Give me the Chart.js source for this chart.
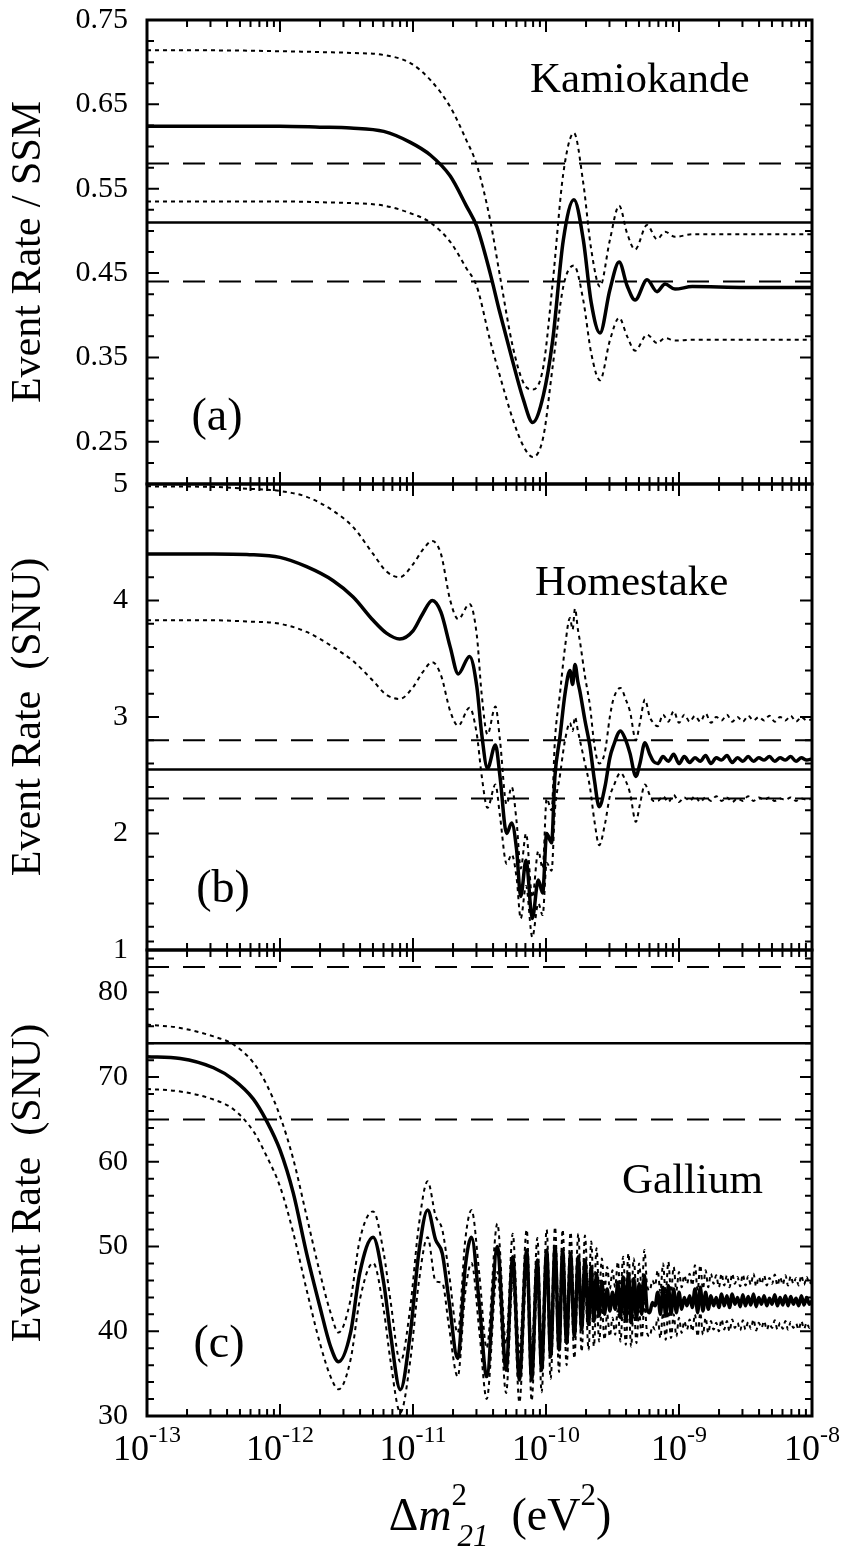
<!DOCTYPE html>
<html>
<head>
<meta charset="utf-8">
<script src="https://cdn.jsdelivr.net/npm/chart.js@4.4.0/dist/chart.umd.min.js"></script>
<style>
  body { margin: 0; background: #fff; }
  #wrap { position: relative; width: 842px; height: 1552px; }
  canvas { position: absolute; left: 0; }
</style>
</head>
<body>
<div id="wrap">
  <canvas id="kam" width="842" height="500" style="top:0px"></canvas>
  <canvas id="home" width="842" height="496" style="top:470px"></canvas>
  <canvas id="gal" width="842" height="616" style="top:936px"></canvas>
</div>
<script>
// ---- panel (a) Kamiokande : log10(dm2) and rate / SSM
const kamLog = [-13, -12.5, -12, -11.7, -11.47, -11.22, -11.02, -10.87, -10.72, -10.6, -10.52, -10.42,
  -10.35, -10.25, -10.17, -10.1, -10.02, -9.95, -9.87, -9.79, -9.72, -9.66, -9.594, -9.52, -9.45,
  -9.39, -9.33, -9.24, -9.165, -9.105, -9.03, -8.9, -8.5, -8];
const kamMid = [0.624, 0.624, 0.624, 0.623, 0.622, 0.618, 0.605, 0.590, 0.565, 0.530, 0.505, 0.450,
  0.405, 0.345, 0.300, 0.273, 0.305, 0.370, 0.489, 0.537, 0.490, 0.415, 0.379, 0.430, 0.463,
  0.435, 0.418, 0.442, 0.428, 0.437, 0.431, 0.434, 0.433, 0.433];
const kamHi = [0.714, 0.714, 0.713, 0.712, 0.711, 0.7085, 0.699, 0.679, 0.647, 0.608, 0.578, 0.513,
  0.450, 0.363, 0.320, 0.312, 0.339, 0.438, 0.568, 0.616, 0.557, 0.478, 0.434, 0.489, 0.530,
  0.497, 0.478, 0.507, 0.490, 0.499, 0.493, 0.496, 0.496, 0.496];
const kamLo = [0.535, 0.535, 0.535, 0.534, 0.533, 0.530, 0.521, 0.510, 0.487, 0.456, 0.434, 0.370,
  0.330, 0.277, 0.245, 0.232, 0.256, 0.339, 0.434, 0.459, 0.418, 0.355, 0.323, 0.370, 0.397,
  0.375, 0.358, 0.377, 0.367, 0.373, 0.370, 0.371, 0.371, 0.371];
const kamData = [0.44, 0.51, 0.58];   // measured rate: low, central, high
const kamTicks = [0.25, 0.35, 0.45, 0.55, 0.65, 0.75];

// ---- panel (b) Homestake (SNU)
const homeLog = [-13, -12.5, -12.25, -12.0, -11.8, -11.6, -11.45, -11.3, -11.2, -11.1, -11.0, -10.93,
  -10.855, -10.79, -10.72, -10.66, -10.575, -10.52, -10.484, -10.44, -10.38, -10.346, -10.296, -10.258,
  -10.221, -10.19, -10.15, -10.103, -10.058, -10.025, -9.995, -9.958, -9.933, -9.895, -9.857, -9.82,
  -9.80, -9.782, -9.76, -9.745, -9.707, -9.67, -9.635, -9.60, -9.557, -9.52, -9.494, -9.44, -9.40,
  -9.369, -9.324, -9.294, -9.256, -9.22, -9.193,
  -9.16, -9.12, -9.08, -9.04, -9.00, -8.96, -8.92, -8.88, -8.84, -8.80, -8.76, -8.72, -8.68, -8.64,
  -8.60, -8.56, -8.52, -8.48, -8.44, -8.40, -8.36, -8.32, -8.28, -8.24, -8.20, -8.16, -8.12, -8.08,
  -8.04, -8.00];
const homeMid = [4.40, 4.40, 4.395, 4.37, 4.29, 4.17, 4.03, 3.83, 3.72, 3.67, 3.74, 3.88,
  4.00, 3.90, 3.60, 3.37, 3.52, 3.26, 2.86, 2.56, 2.76, 2.49, 2.00, 2.09,
  1.86, 1.46, 1.77, 1.27, 1.60, 1.49, 2.00, 1.92, 2.49, 2.83, 3.20, 3.40,
  3.28, 3.45, 3.30, 3.22, 2.97, 2.75, 2.45, 2.23, 2.40, 2.65, 2.75, 2.88, 2.80,
  2.69, 2.49, 2.60, 2.78, 2.68, 2.62,
  2.60, 2.66, 2.62, 2.68, 2.60, 2.66, 2.61, 2.65, 2.62, 2.67, 2.60, 2.65, 2.63, 2.67,
  2.61, 2.65, 2.62, 2.66, 2.62, 2.65, 2.63, 2.66, 2.62, 2.65, 2.63, 2.66, 2.62, 2.65,
  2.63, 2.64];
const homeHi = [4.98, 4.975, 4.96, 4.94, 4.89, 4.77, 4.63, 4.40, 4.25, 4.20, 4.31, 4.43,
  4.51, 4.40, 4.00, 3.84, 3.97, 3.70, 3.20, 2.85, 3.09, 2.80, 2.25, 2.40,
  2.10, 1.70, 2.00, 1.45, 1.85, 1.70, 2.30, 2.20, 2.80, 3.20, 3.60, 3.85,
  3.75, 3.93, 3.75, 3.65, 3.35, 3.10, 2.75, 2.60, 2.70, 3.00, 3.15, 3.25, 3.15,
  3.05, 2.80, 2.95, 3.15, 3.00, 2.95,
  2.92, 3.02, 2.96, 3.05, 2.95, 3.02, 2.96, 3.01, 2.96, 3.03, 2.95, 3.00, 2.97, 3.02,
  2.96, 3.00, 2.96, 3.01, 2.97, 3.00, 2.97, 3.01, 2.96, 3.00, 2.97, 3.01, 2.96, 3.00,
  2.97, 2.98];
const homeLo = [3.83, 3.83, 3.82, 3.80, 3.73, 3.60, 3.48, 3.31, 3.19, 3.155, 3.255, 3.38,
  3.47, 3.36, 3.05, 2.925, 3.08, 2.85, 2.50, 2.22, 2.42, 2.15, 1.74, 1.82,
  1.62, 1.27, 1.55, 1.11, 1.40, 1.30, 1.75, 1.68, 2.20, 2.50, 2.80, 2.95,
  2.88, 3.00, 2.88, 2.80, 2.60, 2.40, 2.10, 1.90, 2.08, 2.32, 2.40, 2.52, 2.45,
  2.35, 2.10, 2.25, 2.42, 2.33, 2.28,
  2.28, 2.32, 2.27, 2.33, 2.27, 2.31, 2.28, 2.32, 2.27, 2.31, 2.28, 2.32, 2.28, 2.31,
  2.27, 2.30, 2.28, 2.32, 2.28, 2.31, 2.29, 2.31, 2.28, 2.30, 2.29, 2.31, 2.28, 2.30,
  2.29, 2.30];
const homeData = [2.30, 2.55, 2.80];
const homeTicks = [1, 2, 3, 4, 5];

// ---- panel (c) Gallium (SNU)
const galLog = [-13, -12.75, -12.5, -12.35, -12.2, -12.1, -12.0, -11.9, -11.8, -11.7, -11.62, -11.56,
  -11.47, -11.4, -11.30, -11.22, -11.17, -11.095, -11.02, -10.957, -10.89, -10.83, -10.78, -10.73,
  -10.664, -10.607, -10.56, -10.50, -10.446, -10.366, -10.30, -10.25, -10.20, -10.145, -10.108, -10.065,
  -10.033, -9.995, -9.965, -9.932, -9.902, -9.875, -9.845, -9.815, -9.787, -9.757, -9.732, -9.707,
  -9.68, -9.66, -9.64, -9.62, -9.60, -9.58, -9.56, -9.54, -9.52, -9.50,
  -9.48, -9.46, -9.44, -9.42, -9.40, -9.38, -9.36, -9.34, -9.32, -9.30,
  -9.28, -9.26, -9.24, -9.22, -9.20, -9.18, -9.16, -9.14, -9.12, -9.10,
  -9.08, -9.06, -9.04, -9.02, -9.00, -8.98, -8.96, -8.94, -8.92, -8.90,
  -8.88, -8.86, -8.84, -8.82, -8.80, -8.78, -8.76, -8.74, -8.72, -8.70,
  -8.68, -8.66, -8.64, -8.62, -8.60, -8.58, -8.56, -8.54, -8.52, -8.50,
  -8.48, -8.46, -8.44, -8.42, -8.40, -8.38, -8.36, -8.34, -8.32, -8.30,
  -8.28, -8.26, -8.24, -8.22, -8.20, -8.18, -8.16, -8.14, -8.12, -8.10,
  -8.08, -8.06, -8.04, -8.02, -8.00];
const galMid = [72.4, 72.2, 71.1, 69.7, 67.4, 64.8, 61.4, 56.3, 49.2, 42.9, 38.2, 36.4,
  39.8, 46.9, 51.1, 45.7, 39.8, 33.1, 39.8, 49.2, 54.3, 50.8, 49.2, 43.7,
  36.8, 47.6, 51.1, 43.0, 34.65, 50.0, 35.4, 48.8, 34.25, 49.6, 34.25, 48.4,
  35.4, 49.6, 37.0, 50.0, 37.8, 49.6, 38.6, 49.2, 39.4, 48.8, 40.2, 48.4,
  40.8, 47.6, 41.2, 46.8, 41.8, 45.9, 42.0, 45.0, 42.4, 44.6,
  42.6, 45.8, 41.6, 46.4, 41.2, 46.8, 41.0, 46.2, 41.4, 45.6,
  42.0, 46.6, 42.6, 42.2, 43.4, 43.0, 44.6, 42.0, 45.2, 41.8,
  45.4, 42.0, 45.0, 42.2, 44.6, 42.6, 44.0, 43.0, 44.2, 42.8,
  45.0, 42.2, 45.2, 42.4, 44.6, 42.6, 44.2, 43.0, 44.0, 42.8,
  44.4, 43.0, 44.2, 42.8, 44.4, 43.2, 44.0, 42.9, 44.3, 43.0,
  44.1, 43.1, 44.4, 42.9, 44.0, 43.2, 44.2, 43.0, 43.9, 43.2,
  44.3, 43.0, 44.0, 43.1, 44.2, 43.0, 44.1, 43.2, 43.9, 43.0,
  44.2, 43.1, 44.0, 43.2, 43.6];
const galHi = [76.2, 75.8, 74.8, 73.85, 71.7, 69.1, 65.4, 60.3, 53.6, 46.9, 42.2, 39.85,
  43.7, 50.8, 54.15, 49.2, 43.7, 36.4, 42.9, 52.4, 57.7, 53.6, 52.0, 46.9,
  39.8, 50.8, 54.3, 46.5, 38.0, 52.7, 38.5, 51.5, 37.5, 52.0, 37.5, 51.0,
  38.5, 52.0, 40.0, 52.3, 40.8, 52.0, 41.5, 51.7, 42.3, 51.5, 43.0, 51.3,
  44.0, 50.6, 44.4, 49.8, 44.6, 48.6, 44.8, 47.6, 45.0, 47.2,
  45.2, 48.2, 44.4, 48.8, 44.2, 49.2, 44.0, 48.6, 44.4, 48.0,
  45.0, 49.6, 45.4, 44.8, 46.0, 45.4, 47.2, 44.6, 48.0, 44.4,
  48.2, 44.6, 47.6, 44.8, 47.0, 45.2, 46.6, 45.6, 46.8, 45.4,
  47.8, 44.8, 47.8, 45.0, 47.2, 45.2, 46.8, 45.6, 46.6, 45.2,
  46.8, 45.4, 46.6, 45.2, 46.8, 45.6, 46.4, 45.3, 46.7, 45.4,
  46.5, 45.5, 46.8, 45.3, 46.4, 45.6, 46.6, 45.4, 46.3, 45.6,
  46.7, 45.4, 46.4, 45.5, 46.6, 45.4, 46.5, 45.6, 46.3, 45.4,
  46.6, 45.5, 46.4, 45.6, 46.0];
const galLo = [68.6, 68.3, 67.35, 66.2, 63.6, 60.65, 57.1, 51.6, 44.9, 38.6, 34.65, 33.15,
  36.6, 43.7, 48.05, 42.5, 36.6, 30.4, 36.6, 45.7, 51.1, 45.9, 45.7, 40.6,
  34.65, 44.6, 48.05, 39.8, 32.0, 47.0, 32.7, 46.0, 31.6, 46.8, 31.8, 45.6,
  32.8, 46.8, 34.4, 47.2, 35.2, 46.9, 36.0, 46.5, 36.8, 46.2, 37.6, 45.8,
  37.8, 44.4, 38.2, 43.6, 38.8, 42.8, 39.0, 42.0, 39.4, 41.6,
  39.6, 42.6, 38.8, 43.2, 38.4, 43.6, 38.2, 43.0, 38.6, 42.4,
  39.2, 43.4, 39.8, 39.4, 40.6, 40.2, 41.6, 39.2, 42.2, 39.0,
  42.4, 39.2, 42.0, 39.4, 41.6, 39.8, 41.2, 40.2, 41.4, 40.0,
  42.0, 39.4, 42.2, 39.6, 41.6, 39.8, 41.2, 40.2, 41.0, 40.0,
  41.4, 40.2, 41.2, 40.0, 41.4, 40.4, 41.0, 40.1, 41.3, 40.2,
  41.1, 40.3, 41.4, 40.1, 41.0, 40.4, 41.2, 40.2, 40.9, 40.4,
  41.3, 40.2, 41.0, 40.3, 41.2, 40.2, 41.1, 40.4, 40.9, 40.2,
  41.2, 40.3, 41.0, 40.4, 40.8];
const galData = [65, 74, 83];
const galTicks = [30, 40, 50, 60, 70, 80];

const decades = [-13, -12, -11, -10, -9, -8];

const serif = "'Liberation Serif', 'Times New Roman', serif";
Chart.defaults.font.family = serif;
Chart.defaults.color = '#000';

function pts(logs, vals) {
  return logs.map((l, i) => ({ x: Math.pow(10, l), y: vals[i] }));
}
function flat(v) {
  return [{ x: 1e-13, y: v }, { x: 1e-8, y: v }];
}

// frame with inward ticks on all four sides + in-panel labels
const frame = {
  id: 'frame',
  afterDraw(chart, args, o) {
    const { ctx, chartArea: a } = chart;
    const xs = chart.scales.x, ys = chart.scales.y;
    ctx.save();
    ctx.strokeStyle = '#000';
    ctx.lineWidth = 2;
    ctx.beginPath();
    for (let d = -13; d < -8; d++) {
      for (let m = 1; m <= 9; m++) {
        const px = xs.getPixelForValue(m * Math.pow(10, d));
        const len = m === 1 ? 12 : 7;
        ctx.moveTo(px, a.top); ctx.lineTo(px, a.top + len);
        ctx.moveTo(px, a.bottom); ctx.lineTo(px, a.bottom - len);
      }
    }
    const n = Math.round((ys.max - ys.min) / o.minor);
    for (let i = 0; i <= n; i++) {
      const v = ys.min + i * o.minor;
      const k = (v - o.base) / o.major;
      const len = Math.abs(k - Math.round(k)) < 1e-6 ? 12 : 7;
      const py = ys.getPixelForValue(v);
      ctx.moveTo(a.left, py); ctx.lineTo(a.left + len, py);
      ctx.moveTo(a.right, py); ctx.lineTo(a.right - len, py);
    }
    ctx.stroke();
    ctx.lineWidth = 3;
    ctx.strokeRect(a.left, a.top, a.right - a.left, a.bottom - a.top);

    ctx.fillStyle = '#000';
    ctx.textBaseline = 'alphabetic';
    o.texts.forEach(t => {
      ctx.font = t.size + 'px ' + serif;
      ctx.textAlign = t.align;
      ctx.fillText(t.text, t.x, t.y - o.top);
    });
    ctx.restore();
  }
};

// x tick labels (10^n) and x title, only on the bottom panel
const xAxisText = {
  id: 'xAxisText',
  afterDraw(chart) {
    const { ctx } = chart;
    const xs = chart.scales.x;
    const top = 936;
    ctx.save();
    ctx.fillStyle = '#000';
    ctx.textBaseline = 'alphabetic';
    ctx.textAlign = 'left';
    decades.forEach(d => {
      const px = xs.getPixelForValue(Math.pow(10, d));
      ctx.font = '36px ' + serif;
      const w1 = ctx.measureText('10').width;
      ctx.font = '24px ' + serif;
      const sup = '-' + Math.abs(d);
      const w2 = ctx.measureText(sup).width;
      const x0 = px - (w1 + w2) / 2;
      ctx.font = '36px ' + serif;
      ctx.fillText('10', x0, 1460 - top);
      ctx.font = '24px ' + serif;
      ctx.fillText(sup, x0 + w1, 1442 - top);
    });

    const parts = [
      { t: '\u0394', f: '46px ', dy: 0, adv: true },
      { t: 'm', f: 'italic 46px ', dy: 0, adv: true },
      { t: '2', f: '31px ', dy: -25, adv: false },
      { t: '21', f: 'italic 31px ', dy: 16, adv: true, dx: 6 },
      { t: '  (eV', f: '46px ', dy: 0, adv: true },
      { t: '2', f: '31px ', dy: -25, adv: true },
      { t: ')', f: '46px ', dy: 0, adv: true }
    ];
    let total = 0;
    parts.forEach(p => {
      ctx.font = p.f + serif;
      p.w = ctx.measureText(p.t).width;
      if (p.adv) total += p.w + (p.dx || 0);
    });
    let x = 500 - total / 2;
    parts.forEach(p => {
      ctx.font = p.f + serif;
      ctx.fillText(p.t, x + (p.dx || 0), 1530 - top + p.dy);
      if (p.adv) x += p.w + (p.dx || 0);
    });
    ctx.restore();
  }
};

function curveSets(logs, mid, hi, lo, band) {
  const line = { borderColor: '#000', pointRadius: 0, cubicInterpolationMode: 'monotone',
    borderJoinStyle: 'round', fill: false };
  return [
    Object.assign({ data: pts(logs, mid), borderWidth: 3.5 }, line),
    Object.assign({ data: pts(logs, hi), borderWidth: 2, borderDash: [4, 4] }, line),
    Object.assign({ data: pts(logs, lo), borderWidth: 2, borderDash: [4, 4] }, line),
    Object.assign({ data: flat(band[1]), borderWidth: 2.5 }, line),
    Object.assign({ data: flat(band[0]), borderWidth: 2, borderDash: [22, 14] }, line),
    Object.assign({ data: flat(band[2]), borderWidth: 2, borderDash: [22, 14] }, line)
  ];
}

function makePanel(id, cfg) {
  return new Chart(document.getElementById(id), {
    type: 'line',
    data: { datasets: curveSets(cfg.logs, cfg.mid, cfg.hi, cfg.lo, cfg.band) },
    plugins: cfg.extra ? [frame, cfg.extra] : [frame],
    options: {
      responsive: false,
      animation: false,
      events: [],
      layout: { padding: cfg.padding },
      plugins: {
        legend: { display: false },
        tooltip: { enabled: false },
        frame: { minor: cfg.minor, major: cfg.major, base: cfg.ticks[0], top: cfg.top, texts: cfg.texts }
      },
      scales: {
        x: { type: 'logarithmic', min: 1e-13, max: 1e-8, display: false },
        y: {
          min: cfg.min, max: cfg.max,
          grid: { display: false, drawTicks: false },
          border: { display: false },
          afterBuildTicks: s => { s.ticks = cfg.ticks.map(v => ({ value: v })); },
          afterFit: s => {
            s.width = 147;
            s.paddingTop = 0;
            s.paddingBottom = 0;
          },
          ticks: { autoSkip: false, padding: 19, font: { size: 30 }, callback: cfg.fmt },
          title: { display: true, text: cfg.title, font: { size: 42 }, padding: { top: 4, bottom: 0 } }
        }
      }
    }
  });
}

makePanel('kam', {
  logs: kamLog, mid: kamMid, hi: kamHi, lo: kamLo, band: kamData,
  min: 0.2, max: 0.75, ticks: kamTicks, minor: 0.025, major: 0.1,
  fmt: v => v.toFixed(2), title: 'Event Rate / SSM', top: 0,
  padding: { top: 20, bottom: 16, left: 0, right: 30 },
  texts: [
    { text: 'Kamiokande', x: 530, y: 92, size: 43, align: 'left' },
    { text: '(a)', x: 217, y: 430, size: 46, align: 'center' }
  ]
});

makePanel('home', {
  logs: homeLog, mid: homeMid, hi: homeHi, lo: homeLo, band: homeData,
  min: 1, max: 5, ticks: homeTicks, minor: 0.2, major: 1,
  fmt: v => String(v), title: 'Event Rate  (SNU)', top: 470,
  padding: { top: 14, bottom: 16, left: 0, right: 30 },
  texts: [
    { text: 'Homestake', x: 535, y: 595, size: 43, align: 'left' },
    { text: '(b)', x: 223, y: 902, size: 46, align: 'center' }
  ]
});

makePanel('gal', {
  logs: galLog, mid: galMid, hi: galHi, lo: galLo, band: galData,
  min: 30, max: 85, ticks: galTicks, minor: 2, major: 10,
  fmt: v => String(v), title: 'Event Rate  (SNU)', top: 936,
  padding: { top: 14, bottom: 136, left: 0, right: 30 },
  extra: xAxisText,
  texts: [
    { text: 'Gallium', x: 622, y: 1193, size: 43, align: 'left' },
    { text: '(c)', x: 219, y: 1357, size: 46, align: 'center' }
  ]
});
</script>
</body>
</html>
